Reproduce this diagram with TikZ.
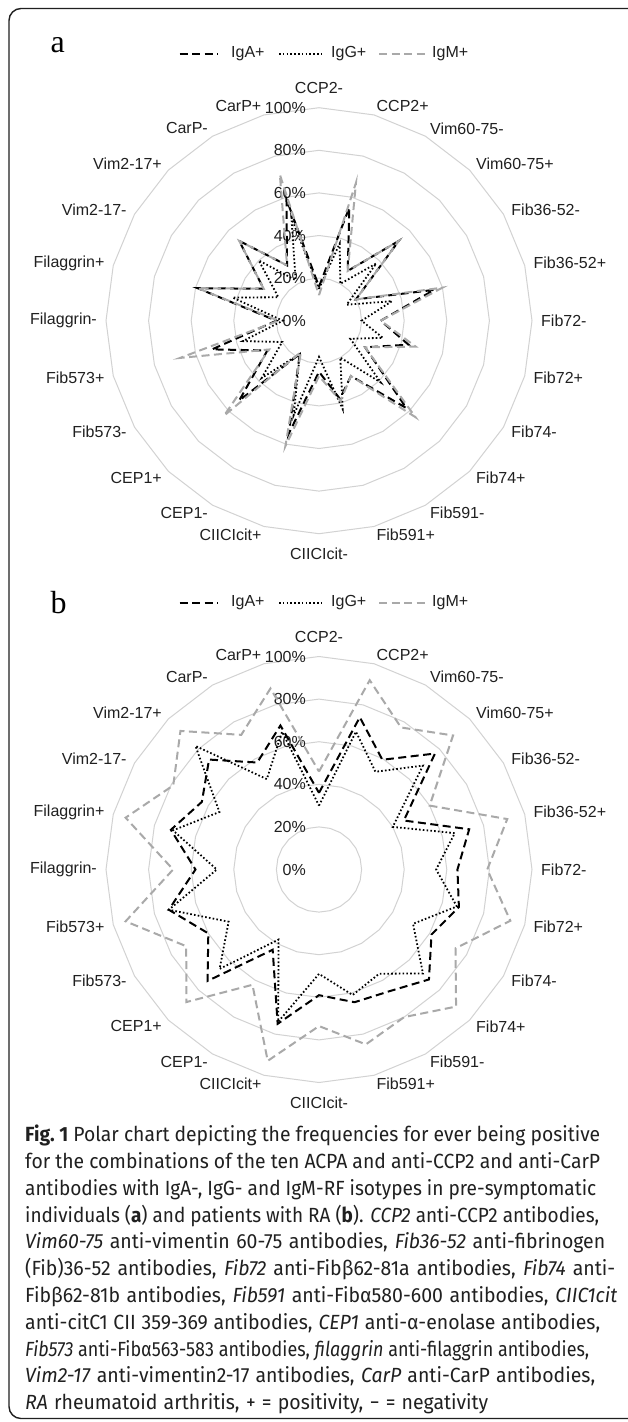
\documentclass[tikz,border=0pt]{standalone}
\usepackage{fontspec}
\usepackage{graphicx}
\setmainfont{Liberation Sans}
\newfontfamily\chartfont{Liberation Sans}
\newfontfamily\panelfont{Liberation Serif}
\newfontfamily\capfont[FakeStretch=0.95]{Fira Sans}
\definecolor{ringgray}{HTML}{D2D2D2}
\definecolor{igmgray}{HTML}{A9A9A9}
\definecolor{inkc}{HTML}{202020}
\tikzset{
  ringline/.style={draw=ringgray, line width=1pt},
  igAline/.style={draw=black, line width=2pt, dash pattern=on 8pt off 4.5pt},
  igGline/.style={draw=black, line width=1.8pt, dash pattern=on 1.6pt off 2.2pt},
  igMline/.style={draw=igmgray, line width=2pt, dash pattern=on 8pt off 4.5pt},
  catlab/.style={font=\chartfont\fontsize{16}{16}\selectfont, text=inkc, inner sep=0pt},
  vallab/.style={font=\chartfont\fontsize{16}{16}\selectfont, text=inkc, inner sep=0pt, anchor=east},
  leglab/.style={font=\chartfont\fontsize{16}{16}\selectfont, text=inkc, inner sep=0pt, anchor=west},
  panellab/.style={font=\panelfont\fontsize{32}{32}\selectfont, text=black, inner sep=0pt, anchor=base west},
  capline/.style={font=\capfont\fontsize{20.5}{26}\selectfont, text=inkc, inner sep=0pt, anchor=base west},
  frameline/.style={draw=inkc, line width=1.4pt, rounded corners=12pt},
}
\newsavebox\capbox
\newcommand\fitline[2]{%
  \sbox\capbox{#2}%
  \ifdim\wd\capbox>#1\relax
    \resizebox{#1}{\height}{\usebox\capbox}%
  \else
    \hbox to #1{\unhcopy\capbox}%
  \fi}
\newcommand\mkpts[4]{%
  \foreach \v [count=\i from 0] in {#4}{%
    \coordinate (#1-\i) at ({#2+213*\v*sin(15*\i)},{#3-213*\v*cos(15*\i)});}}
\newcommand\drawpts[2]{\draw[#2] (#1-0) \foreach \i in {1,...,23}{ -- (#1-\i)} -- cycle;}
\newcommand\radarframe[3]{%
  \foreach \k in {1,...,5}{%
    \draw[ringline] ({#2},{#3-42.6*\k}) \foreach \j in {1,...,23}{ -- ({#2+42.6*\k*sin(15*\j)},{#3-42.6*\k*cos(15*\j)})} -- cycle;}
  \foreach \k in {0,...,5}{%
    \pgfmathtruncatemacro\pcval{20*\k}%
    \node[vallab] (#1-val\k) at (306,{#3-42.6*\k}) {\pcval\%};}
  \foreach \n [count=\i from 0] in {CCP2-,CCP2+,Vim60-75-,Vim60-75+,Fib36-52-,Fib36-52+,Fib72-,Fib72+,Fib74-,Fib74+,Fib591-,Fib591+,CIICIcit-,CIICIcit+,CEP1-,CEP1+,Fib573-,Fib573+,Filaggrin-,Filaggrin+,Vim2-17-,Vim2-17+,CarP-,CarP+}{%
    \ifnum\i=0 \def\anc{south}\def\catr{227}\else
    \ifnum\i=12 \def\anc{north}\def\catr{227}\else
    \ifnum\i<12 \def\anc{west}\def\catr{222}\else \def\anc{east}\def\catr{222}\fi\fi\fi
    \node[catlab, anchor=\anc] (#1-cat\i) at ({#2+\catr*sin(15*\i)},{#3-\catr*cos(15*\i)}) {\n};}
}
\newcommand\mklegend[2]{%
  \coordinate (#1-la1) at (179.5,#2); \coordinate (#1-la2) at (218,#2);
  \draw[igAline] (#1-la1) -- (#1-la2);
  \node[leglab] (#1-lta) at (231,#2) {IgA+};
  \coordinate (#1-lg1) at (279,#2); \coordinate (#1-lg2) at (322,#2);
  \draw[igGline] (#1-lg1) -- (#1-lg2);
  \node[leglab] (#1-ltg) at (331,#2) {IgG+};
  \coordinate (#1-lm1) at (379,#2); \coordinate (#1-lm2) at (426,#2);
  \draw[igMline] (#1-lm1) -- (#1-lm2);
  \node[leglab] (#1-ltm) at (432,#2) {IgM+};
}
\begin{document}
\begin{tikzpicture}[x=1pt,y=-1pt]
\useasboundingbox (0,0) rectangle (627,1422);
\fill[white] (0,0) rectangle (627,1422);
\draw[frameline] (628,8.5) -- (9,8.5) -- (9,1418.5) -- (628,1418.5);
% ---------- panel a ----------
\node[panellab] (pa) at (50.5,52) {a};
\mklegend{la}{54}
\radarframe{ca}{319}{320.7}
\mkpts{aA}{319}{320.7}{0.16,0.55,0.27,0.53,0.20,0.56,0.29,0.435,0.25,0.58,0.30,0.38,0.24,0.55,0.18,0.53,0.28,0.52,0.20,0.59,0.30,0.53,0.30,0.59}
\mkpts{aG}{319}{320.7}{0.15,0.375,0.20,0.38,0.15,0.355,0.20,0.31,0.17,0.41,0.20,0.43,0.17,0.46,0.18,0.38,0.20,0.37,0.17,0.42,0.22,0.40,0.22,0.50}
\mkpts{aM}{319}{320.7}{0.12,0.67,0.27,0.53,0.20,0.60,0.29,0.47,0.25,0.64,0.30,0.39,0.26,0.61,0.17,0.63,0.27,0.675,0.19,0.59,0.30,0.53,0.30,0.71}
\drawpts{aA}{igAline}
\drawpts{aG}{igGline}
\drawpts{aM}{igMline}
% ---------- panel b ----------
\node[panellab] (pb) at (50.5,613) {b};
\mklegend{lb}{603}
\radarframe{cb}{319}{869.5}
\mkpts{bA}{319}{869.5}{0.36,0.74,0.595,0.77,0.46,0.73,0.65,0.68,0.61,0.73,0.66,0.645,0.59,0.75,0.435,0.74,0.60,0.73,0.58,0.72,0.635,0.73,0.58,0.70}
\mkpts{bG}{319}{869.5}{0.30,0.67,0.53,0.69,0.40,0.66,0.55,0.67,0.51,0.69,0.565,0.61,0.49,0.74,0.38,0.66,0.49,0.73,0.48,0.71,0.54,0.82,0.49,0.67}
\mkpts{bM}{319}{869.5}{0.46,0.92,0.77,0.89,0.60,0.915,0.79,0.93,0.74,0.91,0.80,0.85,0.735,0.93,0.625,0.88,0.72,0.94,0.685,0.94,0.79,0.92,0.73,0.88}
\drawpts{bA}{igAline}
\drawpts{bG}{igGline}
\drawpts{bM}{igMline}
% ---------- caption ----------
\node[capline] (cap0) at (25,1141.7) {\fitline{575pt}{{\bfseries Fig.~1} Polar chart depicting the frequencies for ever being positive}};
\node[capline] (cap1) at (25,1168.5) {\fitline{575pt}{for the combinations of the ten ACPA and anti-CCP2 and anti-CarP}};
\node[capline] (cap2) at (25,1195.3) {\fitline{571pt}{antibodies with IgA-, IgG- and IgM-RF isotypes in pre-symptomatic}};
\node[capline] (cap3) at (25,1222.1) {\fitline{574pt}{individuals ({\bfseries a}) and patients with RA ({\bfseries b}). \textit{CCP2} anti-CCP2 antibodies,}};
\node[capline] (cap4) at (25,1248.9) {\fitline{580pt}{\textit{Vim60-75} anti-vimentin 60-75 antibodies, \textit{Fib36-52} anti-fibrinogen}};
\node[capline] (cap5) at (25,1275.7) {\fitline{590pt}{(Fib)36-52 antibodies, \textit{Fib72} anti-Fibβ62-81a antibodies, \textit{Fib74} anti-}};
\node[capline] (cap6) at (25,1302.5) {\fitline{592pt}{Fibβ62-81b antibodies, \textit{Fib591} anti-Fibα580-600 antibodies, \textit{CIIC1cit}}};
\node[capline] (cap7) at (25,1329.3) {\fitline{575pt}{anti-citC1 CII 359-369 antibodies, \textit{CEP1} anti-α-enolase antibodies,}};
\node[capline] (cap8) at (25,1356.1) {\fitline{564pt}{\textit{Fib573} anti-Fibα563-583 antibodies, \textit{filaggrin} anti-filaggrin antibodies,}};
\node[capline] (cap9) at (25,1382.9) {\fitline{570pt}{\textit{Vim2-17} anti-vimentin2-17 antibodies, \textit{CarP} anti-CarP antibodies,}};
\node[capline] (cap10) at (25,1409.7) {\fitline{463pt}{\textit{RA} rheumatoid arthritis, + = positivity, − = negativity}};
\end{tikzpicture}
\end{document}
